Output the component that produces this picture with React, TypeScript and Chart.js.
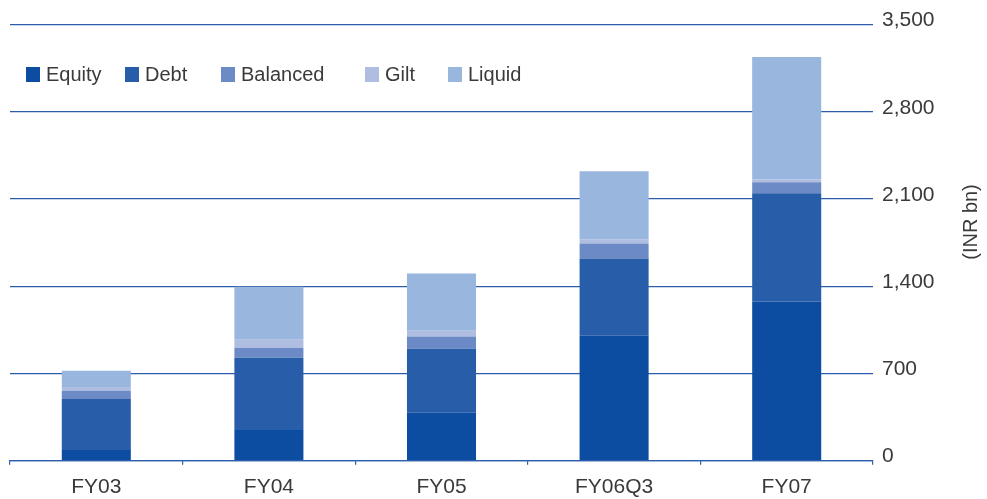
import React, { useEffect, useRef } from "react";
import { Chart, registerables } from "chart.js";

Chart.register(...registerables);

// Assets under management by fund type (INR bn)
const categories = ["FY03", "FY04", "FY05", "FY06Q3", "FY07"];
const equity = [86, 247, 384, 1003, 1277];
const debt = [410, 579, 515, 620, 869];
const balanced = [65, 81, 97, 120, 88];
const gilt = [30, 64, 47, 33, 24];
const liquid = [131, 424, 459, 547, 982];

const seriesNames = ["Equity", "Debt", "Balanced", "Gilt", "Liquid"];
const seriesColors = ["#0d4da1", "#285da9", "#6c8bc6", "#aebde0", "#98b6de"];
const yTicks = [0, 700, 1400, 2100, 2800, 3500];
const axisTitle = "(INR bn)";

const FONT = "'Liberation Sans', Arial, Helvetica, sans-serif";
const TEXT = "#3a3a3a";
const GRID = "#2c5dab";

// Legend drawn inside the plot, at the top-left
const legendPlugin = {
  id: "insideLegend",
  afterDraw(chart: any) {
    const ctx = chart.ctx;
    const starts = [26, 125, 221, 365, 448];
    const y = 74.5;
    ctx.save();
    ctx.font = `20px ${FONT}`;
    ctx.textBaseline = "middle";
    chart.data.datasets.forEach((ds: any, i: number) => {
      const x = starts[i];
      ctx.fillStyle = ds.backgroundColor;
      ctx.fillRect(x, y - 7.5, 14, 15);
      ctx.fillStyle = TEXT;
      ctx.fillText(ds.label, x + 20, y + 1);
    });
    ctx.restore();
  },
};

// Rotated axis title on the right, reading bottom to top
const titlePlugin = {
  id: "rightTitle",
  afterDraw(chart: any) {
    const ctx = chart.ctx;
    const area = chart.chartArea;
    ctx.save();
    ctx.font = `20px ${FONT}`;
    ctx.fillStyle = TEXT;
    ctx.textAlign = "center";
    ctx.textBaseline = "middle";
    ctx.translate(971, area.top + 197.5);
    ctx.rotate(-Math.PI / 2);
    ctx.fillText(axisTitle, 0, 0);
    ctx.restore();
  },
};

export default function App() {
  const ref = useRef<HTMLCanvasElement | null>(null);

  useEffect(() => {
    document.body.style.margin = "0";
    if (!ref.current) return;
    const series = [equity, debt, balanced, gilt, liquid];
    const chart = new Chart(ref.current, {
      type: "bar",
      data: {
        labels: categories,
        datasets: series.map((values, i) => ({
          label: seriesNames[i],
          data: values,
          backgroundColor: seriesColors[i],
          borderWidth: 0,
          barPercentage: 0.4,
          categoryPercentage: 1.0,
        })),
      },
      options: {
        animation: false,
        responsive: true,
        maintainAspectRatio: false,
        layout: { padding: { top: 24.5, left: 10, right: 0, bottom: 0 } },
        plugins: {
          legend: { display: false },
          tooltip: { enabled: false },
        },
        scales: {
          x: {
            stacked: true,
            offset: true,
            grid: {
              offset: true,
              drawOnChartArea: false,
              drawTicks: true,
              tickLength: 4,
              color: GRID,
              lineWidth: 1.2,
            },
            border: { display: true, color: GRID, width: 1.2 },
            ticks: {
              padding: 10,
              color: TEXT,
              font: { family: FONT, size: 21 },
            },
            afterFit(scale: any) {
              scale.height = 38.3;
            },
          },
          y: {
            stacked: true,
            position: "right",
            min: 0,
            max: 3500,
            afterBuildTicks(scale: any) {
              scale.ticks = yTicks.map((v) => ({ value: v }));
            },
            grid: {
              color: GRID,
              lineWidth: 1.2,
              drawTicks: false,
            },
            border: { display: false },
            ticks: {
              padding: 9,
              labelOffset: -4,
              color: TEXT,
              font: { family: FONT, size: 21 },
              callback: (v: any) => Number(v).toLocaleString("en-US"),
            },
            afterFit(scale: any) {
              scale.width = 114;
            },
          },
        },
      },
      plugins: [legendPlugin, titlePlugin],
    });
    return () => chart.destroy();
  }, []);

  return (
    <div style={{ width: 987, height: 499, position: "relative" }}>
      <canvas ref={ref} />
    </div>
  );
}
